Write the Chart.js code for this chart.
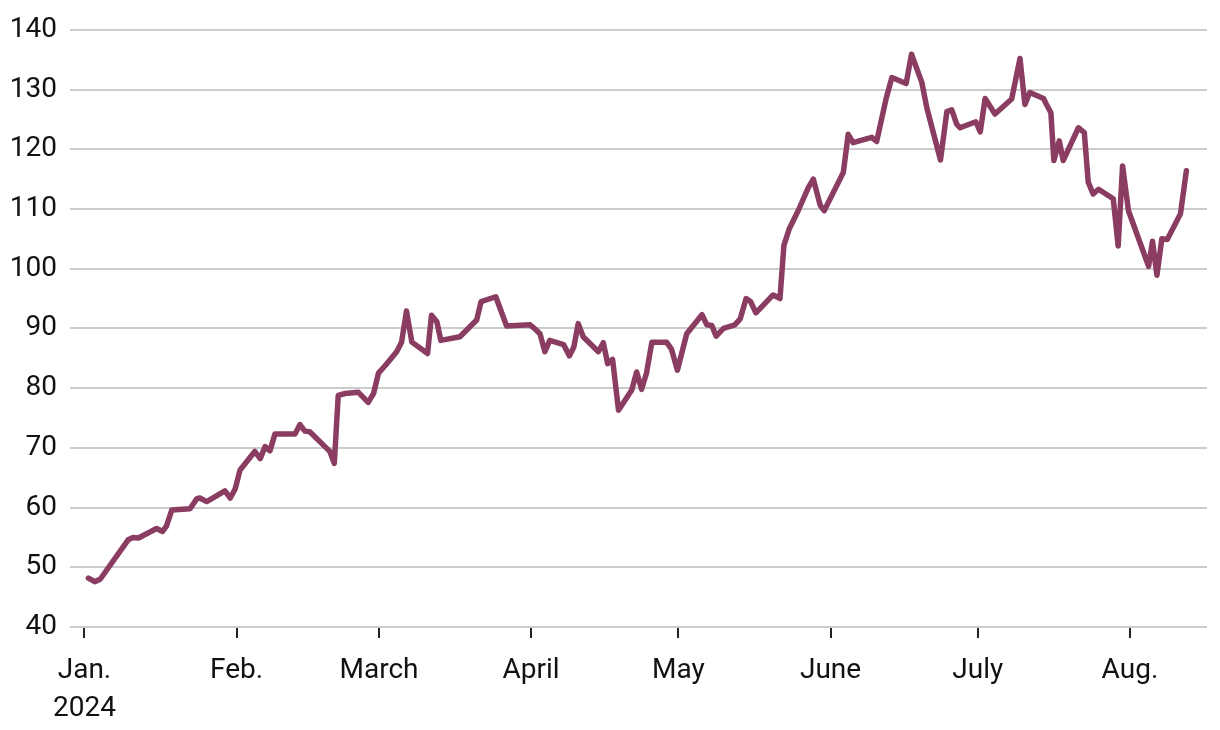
<!DOCTYPE html>
<html lang="en">
<head>
    <meta charset="UTF-8">
    <title>2024 line chart</title>
    <style>
        html, body {
            margin: 0;
            padding: 0;
            background-color: white;
        }
        #wrap {
            width: 1220px;
            height: 730px;
        }
    </style>
    <script src="https://cdn.jsdelivr.net/npm/chart.js"></script>
</head>
<body>
    <div id="wrap"><canvas id="lineChart" width="1220" height="730"></canvas></div>

    <script>
        // days since Jan. 1 2024
        const days = [
            0.8, 2.1, 3.2, 8.9, 9.9, 11.0, 14.7, 15.9, 16.7, 17.8,
            21.5, 22.9, 23.5, 24.9, 28.6, 29.7, 30.7, 31.7, 34.7, 35.8,
            36.8, 37.8, 38.8, 42.9, 43.9, 44.9, 45.9, 49.0, 50.0, 50.9,
            51.7, 53.1, 55.8, 57.8, 58.9, 59.9, 61.2, 63.6, 64.6, 65.6,
            66.7, 69.9, 70.7, 71.8, 72.6, 76.5, 79.9, 80.8, 83.8, 86.0,
            90.8, 91.8, 92.8, 93.8, 94.8, 97.6, 98.8, 99.7, 100.6, 101.6,
            104.7, 105.7, 106.6, 107.6, 108.8, 111.5, 112.5, 113.5, 114.5, 115.6,
            118.6, 119.6, 120.8, 122.7, 125.8, 126.8, 127.8, 128.7, 130.2, 132.5,
            133.6, 134.8, 135.7, 136.8, 140.3, 141.7, 142.5, 143.6, 145.4, 147.5,
            148.5, 149.9, 150.7, 154.6, 155.6, 156.6, 160.4, 161.4, 163.3, 164.5,
            167.4, 168.5, 170.6, 171.6, 174.4, 175.7, 176.7, 177.7, 178.4, 181.6,
            182.5, 183.5, 185.5, 188.9, 190.6, 191.6, 192.6, 195.4, 196.0, 196.9,
            197.5, 198.6, 199.4, 202.5, 203.7, 204.5, 205.5, 206.6, 209.6, 210.6,
            211.5, 212.7, 216.8, 217.6, 218.5, 219.5, 220.6, 223.3, 224.5
        ];
        const values = [
            48.2, 47.6, 48.0, 54.6, 55.0, 54.9, 56.5, 56.0, 56.9, 59.6,
            59.8, 61.5, 61.6, 61.0, 62.8, 61.6, 63.1, 66.3, 69.4, 68.2,
            70.2, 69.5, 72.3, 72.3, 73.9, 72.8, 72.7, 70.2, 69.4, 67.4,
            78.8, 79.1, 79.3, 77.6, 79.1, 82.5, 83.7, 86.1, 87.7, 92.9,
            87.7, 85.8, 92.2, 91.1, 88.0, 88.6, 91.4, 94.5, 95.3, 90.4,
            90.6, 89.9, 89.1, 86.1, 88.0, 87.3, 85.4, 86.9, 90.8, 88.6,
            86.1, 87.6, 84.1, 84.8, 76.3, 79.7, 82.7, 79.8, 82.5, 87.7,
            87.7, 86.5, 83.0, 89.1, 92.3, 90.6, 90.5, 88.7, 90.0, 90.6,
            91.6, 95.0, 94.5, 92.6, 95.6, 95.0, 103.9, 106.7, 109.7, 113.6,
            115.0, 110.6, 109.7, 116.1, 122.5, 121.1, 122.0, 121.3, 128.4, 132.0,
            131.0, 135.9, 131.2, 127.0, 118.2, 126.3, 126.6, 124.2, 123.6, 124.6,
            122.9, 128.5, 125.9, 128.4, 135.2, 127.5, 129.5, 128.5, 127.5, 126.1,
            118.1, 121.4, 118.1, 123.6, 122.8, 114.5, 112.5, 113.3, 111.7, 103.8,
            117.2, 109.7, 100.4, 104.6, 98.9, 105.0, 104.9, 109.2, 116.4
        ];

        // first day of each month, and its label
        const monthDays = [0, 31, 60, 91, 121, 152, 182, 213];
        const monthLabels = [['Jan.', '2024'], 'Feb.', 'March', 'April', 'May', 'June', 'July', 'Aug.'];

        const points = days.map((d, i) => ({ x: d, y: values[i] }));

        new Chart(document.getElementById('lineChart').getContext('2d'), {
            type: 'line',
            data: {
                datasets: [{
                    data: points,
                    borderColor: '#8a3c61',
                    borderWidth: 5.5,
                    pointRadius: 0,
                    tension: 0,
                    borderJoinStyle: 'round',
                    borderCapStyle: 'round'
                }]
            },
            options: {
                responsive: false,
                animation: false,
                layout: {
                    padding: { top: 22, right: 13, left: 0, bottom: 0 }
                },
                plugins: {
                    legend: { display: false },
                    tooltip: { enabled: false }
                },
                scales: {
                    x: {
                        type: 'linear',
                        min: -2.95,
                        max: 228.7,
                        afterBuildTicks: (scale) => {
                            scale.ticks = monthDays.map(v => ({ value: v }));
                        },
                        afterFit: (scale) => {
                            scale.height = 103;
                        },
                        grid: {
                            drawOnChartArea: false,
                            drawTicks: true,
                            tickLength: 11,
                            color: '#222',
                            lineWidth: 2
                        },
                        border: { display: false },
                        ticks: {
                            autoSkip: false,
                            maxRotation: 0,
                            padding: 14,
                            color: '#111',
                            font: { family: 'Roboto, sans-serif', size: 28, lineHeight: 1.36 },
                            callback: (value) => {
                                const i = monthDays.indexOf(value);
                                return i >= 0 ? monthLabels[i] : '';
                            }
                        }
                    },
                    y: {
                        min: 40,
                        max: 140,
                        afterFit: (scale) => {
                            scale.width = 70;
                        },
                        grid: {
                            drawTicks: false,
                            color: '#cccccc',
                            lineWidth: 2
                        },
                        border: { display: false },
                        ticks: {
                            stepSize: 10,
                            padding: 13,
                            color: '#111',
                            font: { family: 'Roboto, sans-serif', size: 28 }
                        }
                    }
                }
            }
        });
    </script>
</body>
</html>
